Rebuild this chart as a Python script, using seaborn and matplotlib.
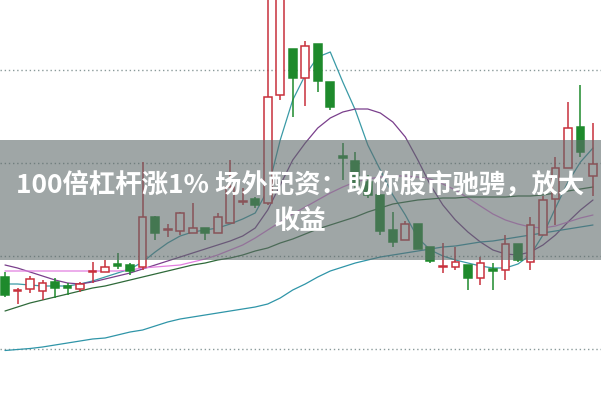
import numpy as np
import pandas as pd
import seaborn as sns
from matplotlib import pyplot as plt
from matplotlib.patches import Rectangle

# daily candles (open, close, high, low)
opens = [12.3, 10.9, 11.1, 10.9, 11.8, 11.35, 11.1, 12.8, 12.8, 13.55, 13.5, 13.3,
         18.3, 17.0, 16.9, 16.7, 17.2, 16.7, 17.7, 19.8, 20.1, 19.7, 30.5, 35.1,
         32.2, 35.6, 31.8, 24.35, 23.9, 21.8, 20.5, 17.0, 16.0, 17.6, 15.3, 13.3,
         13.3, 13.5, 12.2, 13.05, 13.0, 15.6, 13.8, 16.5, 20.1, 23.2, 27.3, 22.4]
closes = [10.5, 11.0, 12.1, 11.7, 11.2, 11.25, 11.6, 12.9, 13.3, 13.45, 12.9, 18.3,
          16.7, 17.1, 18.7, 17.2, 16.7, 18.3, 21.3, 19.9, 19.5, 30.3, 42.0, 32.2,
          35.4, 31.9, 29.3, 24.25, 21.5, 20.5, 16.9, 15.8, 17.6, 15.1, 13.9, 13.35,
          13.8, 12.2, 13.7, 12.95, 15.6, 14.0, 17.5, 20.0, 23.2, 27.2, 24.8, 23.6]
highs = [12.8, 11.2, 12.4, 12.0, 12.2, 11.7, 11.8, 13.8, 14.0, 14.7, 13.7, 23.8,
         18.4, 17.6, 18.8, 19.7, 17.2, 18.7, 24.0, 21.2, 20.3, 42.0, 43.0, 35.1,
         35.9, 35.6, 31.8, 25.7, 24.8, 22.5, 20.5, 18.8, 17.9, 17.6, 15.3, 15.7,
         15.3, 13.5, 14.3, 13.7, 16.5, 15.6, 18.3, 20.4, 24.3, 29.8, 31.5, 27.7]
lows = [10.3, 9.6, 10.7, 10.0, 10.2, 10.5, 10.8, 11.7, 12.8, 13.1, 12.5, 13.0,
        16.0, 16.3, 16.5, 16.7, 16.0, 16.7, 17.7, 19.5, 19.2, 19.5, 30.0, 28.3,
        29.4, 30.8, 29.0, 22.0, 21.0, 20.2, 16.5, 15.3, 16.0, 15.1, 13.7, 12.7,
        13.0, 11.0, 11.5, 11.0, 12.0, 13.8, 13.0, 16.5, 17.5, 23.2, 24.3, 20.4]

# moving average lines
ma5 = [11.6, 11.6, 11.5, 11.4, 11.4, 11.4, 11.6, 11.9, 12.3, 12.7, 13.1, 13.8,
       14.8, 15.7, 16.4, 16.8, 17.0, 17.2, 17.6, 18.1, 18.7, 21.0, 26.0, 30.0,
       32.5, 34.3, 34.8, 31.8, 29.0, 25.5, 23.0, 20.5, 18.5, 16.2, 15.0, 14.4,
       14.0, 13.7, 13.4, 13.2, 13.2, 13.6, 14.5, 16.5, 19.2, 21.8, 23.8, 25.2]
ma10 = [13.5, 13.2, 12.8, 12.4, 12.0, 11.7, 11.6, 11.8, 12.1, 12.4, 12.7, 13.1,
        13.5, 13.9, 14.3, 14.7, 15.1, 15.5, 15.9, 16.4, 17.2, 19.0, 21.5, 24.0,
        25.7, 27.2, 28.2, 28.8, 29.1, 29.1, 28.7, 27.8, 26.3, 24.0, 21.5, 19.5,
        18.0, 16.8, 15.8, 15.0, 14.6, 14.5, 14.8, 15.5, 16.5, 17.8, 19.0, 20.0]
ma20 = [12.9, 12.9, 12.9, 12.9, 12.9, 12.9, 12.9, 12.9, 12.9, 12.9, 13.0, 13.2,
        13.3, 13.4, 13.5, 13.8, 14.1, 14.5, 15.0, 15.5, 16.2, 17.0, 17.8, 18.6,
        19.3, 20.0, 20.7, 21.3, 21.8, 22.1, 22.3, 22.4, 22.4, 22.3, 22.1, 21.6,
        21.0, 20.2, 19.4, 18.6, 18.0, 17.6, 17.3, 17.2, 17.4, 17.8, 18.2, 18.5]
ma30 = [8.9, 9.3, 9.7, 10.0, 10.3, 10.6, 10.9, 11.2, 11.4, 11.7, 12.0, 12.3,
        12.6, 12.9, 13.2, 13.5, 13.7, 14.0, 14.2, 14.5, 14.9, 15.2, 15.7, 16.1,
        16.6, 17.1, 17.5, 17.9, 18.3, 18.8, 19.2, 19.6, 19.8, 20.0, 20.1, 20.2,
        20.2, 20.3, 20.3, 20.3, 20.3, 20.4, 20.4, 20.5, 20.7, 20.9, 21.1, 21.3]
ma60 = [4.95, 5.05, 5.15, 5.3, 5.5, 5.7, 5.9, 6.1, 6.2, 6.5, 6.8, 7.0,
        7.4, 7.8, 8.1, 8.3, 8.5, 8.7, 8.9, 9.1, 9.3, 9.6, 10.2, 11.0,
        11.6, 12.3, 12.9, 13.3, 13.7, 14.0, 14.3, 14.5, 14.7, 14.9, 15.1, 15.3,
        15.4, 15.6, 15.8, 15.9, 16.1, 16.3, 16.5, 16.7, 16.9, 17.1, 17.3, 17.5]

grid_levels = [5.1, 14.4, 23.7, 33.0]
title_line1 = "100倍杠杆涨1% 场外配资：助你股市驰骋，放大"
title_line2 = "收益"

sns.set_style("white")
plt.rcParams['font.family'] = ['Noto Sans CJK SC', 'DejaVu Sans']

df = pd.DataFrame({"open": opens, "close": closes, "high": highs, "low": lows})
df["day"] = np.arange(len(df))
df["ma5"] = ma5
df["ma10"] = ma10
df["ma20"] = ma20
df["ma30"] = ma30
df["ma60"] = ma60

fig = plt.figure(figsize=(6.01, 4.0), dpi=100)
ax = fig.add_axes([0, 0, 1, 1])

for lvl in grid_levels:
    ax.axhline(lvl, color='#8a9a9a', linestyle=(0, (1, 2)), linewidth=1.0, zorder=1)

up_col = '#c8303c'
down_col = '#1e8a2c'
w = 0.62
for _, r in df.iterrows():
    up = r["close"] >= r["open"]
    col = up_col if up else down_col
    lo, hi = sorted([r["open"], r["close"]])
    ax.vlines(r["day"], r["low"], lo, color=col, linewidth=1.1, zorder=3)
    ax.vlines(r["day"], hi, r["high"], color=col, linewidth=1.1, zorder=3)
    h = max(hi - lo, 0.15)
    ax.add_patch(Rectangle((r["day"] - w / 2, lo), w, h,
                           facecolor='white' if up else col, edgecolor=col,
                           linewidth=1.1, zorder=4))

ma_styles = [("ma5", '#3a9aa6'), ("ma10", '#7a3f8c'), ("ma20", '#e27ee0'),
             ("ma30", '#2f6a3a'), ("ma60", '#2f95a8')]
for name, c in ma_styles:
    sns.lineplot(data=df, x="day", y=name, color=c, linewidth=0.9, ax=ax, zorder=2)

# grey banner with title
ax.axhspan(14.0, 26.0, color='#5f6b6b', alpha=0.6, zorder=6, linewidth=0)
ax.text(23.6, 21.5, title_line1, color='white', fontsize=19, fontweight='bold',
        ha='center', va='center', zorder=7)
ax.text(23.6, 17.9, title_line2, color='white', fontsize=19, fontweight='bold',
        ha='center', va='center', zorder=7)

ax.set_xlim(-0.4, 47.64)
ax.set_ylim(0, 40)
ax.set_xlabel("")
ax.set_ylabel("")
ax.set_xticks([])
ax.set_yticks([])
for s in ax.spines.values():
    s.set_visible(False)

fig.savefig("out.png", dpi=100)
